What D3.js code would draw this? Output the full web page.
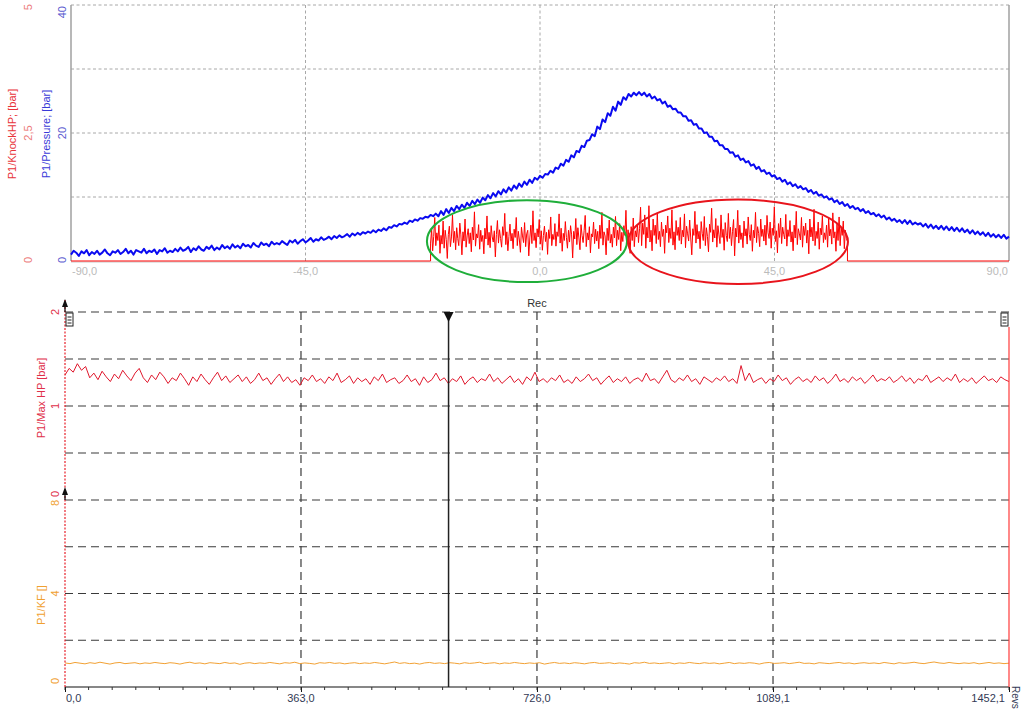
<!DOCTYPE html>
<html><head><meta charset="utf-8">
<script src="https://cdn.jsdelivr.net/npm/d3@7"></script>
<style>
html,body{margin:0;padding:0;background:#fff;}
svg{display:block;font-family:"Liberation Sans",Arial,sans-serif;font-size:11px;}
</style></head><body>
<svg id="c" width="1024" height="711"></svg>
<script>
// ---------- DATA ----------
const angleTicks = [-90, -45, 0, 45, 90];
const angleTickLabels = ["-90,0", "-45,0", "0,0", "45,0", "90,0"];
const pressureTicks = [0, 20, 40];
const pressureTickLabels = ["0", "20", "40"];
const pressureGrid = [10, 20, 30, 40];
const knockTicks = [0, 2.5, 5];
const knockTickLabels = ["0", "2,5", "5"];

// cylinder pressure [bar], one sample every 0.5 deg from -90 to 90
const pressureValues = [
1.0,1.6,1.3,0.8,1.5,1.2,1.7,0.9,1.4,1.1,1.6,1.0,1.3,1.8,1.2,0.9,1.5,1.3,1.7,1.1,
1.4,1.9,1.2,1.6,1.0,1.7,1.5,1.3,1.9,1.2,1.6,1.4,1.8,1.1,1.7,1.5,2.0,1.3,1.6,1.4,
1.9,1.5,2.1,1.6,1.8,2.2,1.4,2.0,1.7,2.3,1.8,1.6,2.2,1.9,2.4,1.7,2.1,1.8,2.5,2.0,
2.3,1.9,2.6,2.1,2.4,2.0,2.7,2.3,2.5,2.1,2.8,2.4,2.2,2.9,2.5,2.7,2.3,3.0,2.6,2.8,
2.6,3.1,2.8,2.5,3.2,2.9,3.3,2.7,3.1,3.4,2.9,3.2,3.6,3.0,3.4,3.2,3.7,3.3,3.5,3.8,
3.4,3.9,3.6,4.0,3.7,3.9,4.2,3.8,4.3,4.0,4.4,4.1,4.5,4.3,4.6,4.4,4.8,4.5,4.9,4.7,
5.1,4.8,5.3,5.2,5.6,5.4,5.8,5.7,6.0,5.8,6.3,6.1,6.5,6.3,6.7,6.6,6.9,6.8,7.2,7.0,
7.4,7.0,7.8,7.2,8.1,7.5,8.3,7.8,8.6,8.1,8.8,8.3,9.1,8.6,9.4,8.9,9.6,9.1,9.9,9.5,
10.3,9.8,10.6,10.1,10.9,10.4,11.2,10.7,11.5,11.0,11.8,11.3,12.1,11.6,12.4,11.9,12.7,12.2,13.0,12.7,
13.3,13.0,13.6,13.5,14.1,13.8,14.6,14.4,15.2,14.9,15.8,15.5,16.5,16.2,17.2,17.0,18.0,17.8,18.8,18.9,
19.8,19.5,21.0,20.6,22.1,21.7,23.1,22.7,24.1,23.5,24.9,24.4,25.6,25.2,26.1,25.7,26.3,25.9,26.4,25.9,
26.3,25.7,26.1,25.4,25.7,25.1,25.3,24.6,24.9,24.1,24.3,23.7,23.8,23.2,23.2,22.6,22.6,21.9,22.0,21.3,
21.4,20.7,20.7,20.0,20.1,19.4,19.4,18.7,18.8,18.1,18.1,17.5,17.5,16.9,17.0,16.3,16.5,15.8,16.0,15.4,
15.6,14.9,15.1,14.4,14.7,14.0,14.2,13.6,13.8,13.2,13.4,12.8,13.0,12.4,12.7,12.0,12.3,11.7,12.0,11.4,
11.7,11.2,11.4,10.8,11.1,10.5,10.8,10.2,10.4,9.9,10.1,9.6,9.8,9.2,9.5,8.9,9.2,8.6,8.9,8.3,
8.6,8.1,8.3,7.8,8.1,7.5,7.8,7.3,7.5,7.0,7.3,6.8,7.1,6.5,6.8,6.3,6.6,6.1,6.4,5.9,
6.4,5.8,6.3,5.7,6.0,5.7,5.9,5.4,5.8,5.2,5.7,5.1,5.5,5.0,5.5,4.9,5.4,4.8,5.3,4.7,
5.2,4.6,5.1,4.5,4.9,4.3,4.8,4.2,4.6,4.1,4.5,3.9,4.4,3.8,4.2,3.7,4.1,3.6,4.1,3.5,3.8];
const pressureStart = -90, pressureEnd = 90;

// knock (high-pass) signal [bar] inside the knock window
const knockWindow = [-21, 59];
const knockValues = [
0.35,0.62,0.2,0.48,0.85,0.3,0.55,0.4,0.7,0.15,0.5,0.33,0.78,0.25,0.6,0.42,0.05,0.52,0.68,0.28,
0.47,0.9,0.36,0.58,0.22,0.65,0.44,0.3,0.74,0.51,0.12,0.57,0.39,0.82,0.27,0.49,0.63,0.34,0.55,0.18,
0.66,0.41,0.96,0.29,0.53,0.45,0.71,0.23,0.6,0.38,0.5,0.14,0.64,0.43,0.88,0.31,0.56,0.26,0.69,0.47,
0.37,0.59,0.08,0.52,0.79,0.35,0.61,0.44,0.27,0.67,0.5,0.93,0.32,0.57,0.2,0.48,0.72,0.39,0.54,0.24,
0.62,0.46,0.85,0.3,0.58,0.41,0.17,0.66,0.49,0.36,0.75,0.28,0.53,0.6,0.1,0.45,0.7,0.34,0.98,0.4,
0.55,0.26,0.63,0.47,0.81,0.33,0.59,0.21,0.5,0.68,0.38,0.56,0.13,0.61,0.44,0.86,0.3,0.52,0.42,0.73,
0.29,0.57,0.48,0.92,0.35,0.64,0.19,0.54,0.4,0.77,0.46,0.25,0.6,0.37,0.69,0.51,0.06,0.58,0.43,0.83,
0.32,0.65,0.45,0.22,0.71,0.5,0.36,0.6,0.89,0.28,0.55,0.41,0.67,0.16,0.53,0.47,0.76,0.34,0.62,0.39,
0.58,0.24,0.7,0.44,0.95,0.31,0.57,0.49,0.12,0.64,0.4,0.8,0.35,0.52,0.27,0.66,0.45,0.87,0.3,0.6,
0.42,0.73,0.2,0.56,0.38,0.69,0.5,0.99,0.33,0.61,0.46,0.15,0.67,0.4,0.84,0.28,0.59,0.47,0.72,0.36,
0.63,1.05,0.3,0.74,0.52,0.9,0.25,0.66,0.45,1.08,0.37,0.6,0.2,0.82,0.5,0.7,0.34,0.94,0.42,0.58,
0.28,0.76,0.48,0.62,0.15,0.7,0.55,0.88,0.36,0.64,0.44,1.0,0.31,0.57,0.22,0.79,0.5,0.66,0.4,0.85,
0.33,0.6,0.47,0.92,0.26,0.68,0.53,0.39,0.8,0.45,0.12,0.63,0.5,0.97,0.35,0.71,0.43,0.58,0.24,0.77,
0.54,0.4,0.87,0.3,0.65,0.48,0.18,0.72,0.56,1.03,0.37,0.61,0.45,0.83,0.27,0.69,0.51,0.34,0.9,0.46,
0.62,0.21,0.75,0.5,0.38,0.93,0.44,0.66,0.3,0.58,0.81,0.1,0.64,0.47,0.99,0.35,0.7,0.42,0.55,0.26,
0.78,0.49,0.63,0.33,0.86,0.52,0.4,0.71,0.19,0.6,0.45,0.95,0.36,0.67,0.54,0.28,0.82,0.48,0.62,0.39,
0.7,0.31,0.89,0.55,0.44,0.76,0.25,0.64,0.5,1.06,0.38,0.59,0.16,0.73,0.46,0.84,0.34,0.66,0.52,0.43,
0.91,0.29,0.61,0.48,0.79,0.37,0.57,0.2,0.7,0.45,0.97,0.32,0.63,0.53,0.41,0.85,0.27,0.68,0.5,0.74,
0.35,0.6,0.14,0.82,0.47,0.66,0.39,1.01,0.3,0.58,0.44,0.76,0.23,0.64,0.51,0.88,0.36,0.55,0.42,0.7,
0.27,0.83,0.49,0.62,0.33,0.94,0.45,0.57,0.19,0.72,0.4,0.86,0.3,0.65,0.5,0.78,0.24,0.6,0.44,0.38];

// annotation ellipses (centre angle, centre pressure, half-width deg, half-height bar)
const greenEllipse = [-2.5, 3.1, 19.2, 6.4];
const redEllipse = [38.0, 3.0, 21.1, 6.6];

// lower chart: per-cycle values over revolutions
const revTicks = [0, 363.0, 726.0, 1089.1, 1452.1];
const revTickLabels = ["0,0", "363,0", "726,0", "1089,1", "1452,1"];
const revMax = 1452.1;
const cursorRev = 590;
const maxHpGrid = [0.5, 1, 1.5, 2];
const kfGrid = [2, 4, 6, 8];

const maxHpValues = [
1.33,1.40,1.36,1.45,1.38,1.42,1.30,1.35,1.28,1.37,1.31,1.26,1.34,1.29,1.38,1.32,1.27,1.35,1.40,1.30,
1.25,1.33,1.28,1.36,1.31,1.24,1.30,1.27,1.35,1.29,1.22,1.31,1.26,1.34,1.28,1.23,1.30,1.36,1.27,1.32,
1.25,1.29,1.33,1.26,1.31,1.24,1.28,1.35,1.27,1.30,1.23,1.29,1.34,1.26,1.31,1.25,1.28,1.22,1.30,1.27,
1.33,1.26,1.29,1.24,1.31,1.27,1.35,1.25,1.28,1.32,1.24,1.30,1.26,1.29,1.23,1.31,1.27,1.34,1.25,1.28,
1.30,1.24,1.27,1.33,1.26,1.29,1.22,1.31,1.25,1.28,1.35,1.27,1.30,1.24,1.29,1.26,1.32,1.23,1.28,1.31,
1.25,1.29,1.27,1.34,1.26,1.30,1.24,1.28,1.32,1.25,1.29,1.23,1.31,1.27,1.36,1.26,1.29,1.25,1.30,1.27,
1.33,1.25,1.28,1.24,1.31,1.26,1.29,1.34,1.27,1.30,1.23,1.28,1.32,1.25,1.29,1.26,1.31,1.24,1.28,1.30,
1.26,1.35,1.27,1.29,1.24,1.31,1.38,1.28,1.25,1.30,1.27,1.33,1.26,1.29,1.23,1.31,1.28,1.25,1.30,1.27,
1.32,1.26,1.29,1.24,1.43,1.27,1.35,1.25,1.28,1.30,1.24,1.29,1.26,1.33,1.27,1.30,1.23,1.28,1.31,1.26,
1.29,1.25,1.32,1.27,1.30,1.24,1.28,1.34,1.26,1.29,1.25,1.31,1.27,1.30,1.24,1.28,1.33,1.26,1.29,1.27,
1.31,1.25,1.28,1.32,1.26,1.30,1.24,1.29,1.27,1.33,1.25,1.28,1.31,1.26,1.30,1.27,1.34,1.25,1.29,1.26,
1.30,1.24,1.28,1.32,1.27,1.29,1.25,1.31,1.28,1.26];

const kfValues = [
1.03,1.00,1.05,1.02,0.99,1.04,1.01,1.06,1.02,0.98,1.03,1.05,1.00,1.02,1.04,0.99,1.03,1.01,1.05,1.02,
1.00,1.04,1.02,0.98,1.03,1.06,1.01,1.03,0.99,1.04,1.02,1.00,1.05,1.01,1.03,0.97,1.02,1.04,1.00,1.03,
1.01,1.05,1.02,0.99,1.04,1.02,1.06,1.00,1.03,1.01,0.98,1.04,1.02,1.05,1.01,1.03,0.99,1.02,1.04,1.00,
1.03,1.01,1.05,1.02,0.99,1.03,1.07,1.01,1.04,1.00,1.02,0.98,1.03,1.05,1.01,1.03,1.00,1.04,1.02,0.99,
1.04,1.01,1.03,1.06,1.00,1.02,1.04,0.99,1.03,1.01,1.05,1.02,1.00,1.03,1.01,1.04,0.98,1.02,1.05,1.01,
1.03,1.00,1.04,1.02,0.99,1.03,1.05,1.01,1.02,1.04,1.00,1.03,1.01,0.98,1.04,1.02,1.06,1.01,1.03,1.00,
1.02,1.04,0.99,1.03,1.01,1.05,1.02,1.00,1.04,1.01,1.03,0.99,1.02,1.05,1.00,1.03,1.01,1.04,1.02,0.98,
1.03,1.05,1.01,1.02,1.04,1.00,1.03,1.06,1.01,1.02,0.99,1.04,1.02,1.00,1.03,1.05,1.01,1.03,0.99,1.02,
1.04,1.01,1.03,1.00,1.05,1.02,0.99,1.04,1.01,1.03,1.06,1.02,1.00,1.04,1.07,1.03,1.01,1.05,1.02,1.00,
1.03,1.01,1.04,0.99,1.02,1.05,1.01,1.03,1.00,1.02];

// ---------- DRAW ----------
const svg = d3.select("#c");
const C = {
  gridTop: "#a8a8a8", axisTop: "#a0a0a0", topTick: "#bbbbbb",
  knock: "#ff0000", knockLbl: "#e8333a", knockTick: "#ec7a7a",
  press: "#0a0af0", pressLbl: "#3a3ad8", pressTick: "#5a5ad0",
  grid2: "#3a3a3a", maxhp: "#e0182d", maxhpLbl: "#e0304a", kf: "#f2a134", kfLbl: "#f0a030",
  revTick: "#333a55"
};

// ===== Top chart =====
const xA = d3.scaleLinear().domain([-90, 90]).range([71, 1009]);
const yP = d3.scaleLinear().domain([0, 40]).range([261, 5]);
const yK = d3.scaleLinear().domain([0, 5]).range([261, 5]);

const topG = svg.append("g");
topG.selectAll(".hg").data(pressureGrid).join("line")
  .attr("x1", xA(-90)).attr("x2", xA(90)).attr("y1", d => yP(d)).attr("y2", d => yP(d))
  .attr("stroke", C.gridTop).attr("stroke-dasharray", "3,2.5").attr("stroke-width", 1);
topG.selectAll(".vg").data(angleTicks.slice(1, -1)).join("line")
  .attr("x1", d => xA(d)).attr("x2", d => xA(d)).attr("y1", yP(40)).attr("y2", yP(0))
  .attr("stroke", C.gridTop).attr("stroke-dasharray", "3,2.5").attr("stroke-width", 1);
topG.append("line").attr("x1", xA(-90)).attr("x2", xA(-90)).attr("y1", yP(40)).attr("y2", yP(0)).attr("stroke", C.axisTop).attr("stroke-width", 1.5);
topG.append("line").attr("x1", xA(90)).attr("x2", xA(90)).attr("y1", yP(40)).attr("y2", yP(0)).attr("stroke", C.axisTop).attr("stroke-width", 1.5);
topG.append("line").attr("x1", xA(-90)).attr("x2", xA(90)).attr("y1", yP(0) + 1).attr("y2", yP(0) + 1).attr("stroke", "#c8c8c8").attr("stroke-width", 1);

// pressure line
const pAngles = d3.range(pressureValues.length).map(i => pressureStart + i * (pressureEnd - pressureStart) / (pressureValues.length - 1));
topG.append("path").datum(pressureValues.map((v, i) => [pAngles[i], v]))
  .attr("fill", "none").attr("stroke", C.press).attr("stroke-width", 2).attr("stroke-linejoin", "round")
  .attr("d", d3.line().x(d => xA(d[0])).y(d => yP(d[1])));

// knock line (zero outside window)
const kStep = (knockWindow[1] - knockWindow[0]) / (knockValues.length - 1);
const knockPts = [[-90, 0], [knockWindow[0], 0]]
  .concat(knockValues.map((v, i) => [knockWindow[0] + i * kStep, v]))
  .concat([[knockWindow[1], 0], [90, 0]]);
topG.append("path").datum(knockPts)
  .attr("fill", "none").attr("stroke", C.knock).attr("stroke-width", 1)
  .attr("d", d3.line().x(d => xA(d[0])).y(d => yK(d[1])));

// ellipses
function ell(e, col) {
  topG.append("ellipse")
    .attr("cx", xA(e[0])).attr("cy", yP(e[1]))
    .attr("rx", xA(e[0] + e[2]) - xA(e[0])).attr("ry", yP(0) - yP(e[3]))
    .attr("fill", "none").attr("stroke", col).attr("stroke-width", 2);
}
ell(greenEllipse, "#1fae3a");
ell(redEllipse, "#e8141c");

// x labels
topG.selectAll(".xl").data(angleTicks).join("text")
  .attr("x", (d, i) => i === 0 ? xA(d) + 1 : i === angleTicks.length - 1 ? xA(d) - 1 : xA(d))
  .attr("y", 275)
  .attr("text-anchor", (d, i) => i === 0 ? "start" : i === angleTicks.length - 1 ? "end" : "middle")
  .attr("fill", C.topTick).text((d, i) => angleTickLabels[i]);

function rotTicks(g, vals, labels, scale, x, col, lo, hi) {
  vals.forEach((v, i) => {
    let y = scale(v), anchor = "middle";
    if (i === 0) { anchor = "start"; y = lo; }
    if (i === vals.length - 1) { anchor = "end"; y = hi; }
    g.append("text").attr("transform", `translate(${x},${y}) rotate(-90)`)
      .attr("text-anchor", anchor).attr("dy", "0.35em").attr("fill", col).text(labels[i]);
  });
}
rotTicks(topG, pressureTicks, pressureTickLabels, yP, 62, C.pressTick, 263, 6);
rotTicks(topG, knockTicks, knockTickLabels, yK, 28, C.knockTick, 263, 4);
topG.append("text").attr("transform", `translate(46,134) rotate(-90)`).attr("text-anchor", "middle").attr("dy", "0.35em")
  .attr("fill", C.pressLbl).text("P1/Pressure; [bar]");
topG.append("text").attr("transform", `translate(12,134) rotate(-90)`).attr("text-anchor", "middle").attr("dy", "0.35em")
  .attr("fill", C.knockLbl).text("P1/KnockHP; [bar]");

// ===== Bottom chart =====
const xR = d3.scaleLinear().domain([0, revMax]).range([65, 1009]);
const yM = d3.scaleLinear().domain([0, 2]).range([500, 312]);
const yF = d3.scaleLinear().domain([0, 8]).range([687, 500]);
const bot = svg.append("g");

const hLines = maxHpGrid.map(v => yM(v)).concat(kfGrid.map(v => yF(v)));
bot.selectAll(".bh").data(hLines).join("line")
  .attr("x1", xR(0)).attr("x2", xR(revMax)).attr("y1", d => d).attr("y2", d => d)
  .attr("stroke", C.grid2).attr("stroke-width", 1.2).attr("stroke-dasharray", "8,5");
bot.selectAll(".bv").data(revTicks.slice(1, -1)).join("line")
  .attr("x1", d => xR(d)).attr("x2", d => xR(d)).attr("y1", yM(2)).attr("y2", yF(0))
  .attr("stroke", C.grid2).attr("stroke-width", 1.2).attr("stroke-dasharray", "8,5");

const revsM = maxHpValues.map((v, i) => i * revMax / (maxHpValues.length - 1));
bot.append("path").datum(maxHpValues.map((v, i) => [revsM[i], v]))
  .attr("fill", "none").attr("stroke", C.maxhp).attr("stroke-width", 1)
  .attr("d", d3.line().x(d => xR(d[0])).y(d => yM(d[1])));
const revsF = kfValues.map((v, i) => i * revMax / (kfValues.length - 1));
bot.append("path").datum(kfValues.map((v, i) => [revsF[i], v]))
  .attr("fill", "none").attr("stroke", C.kf).attr("stroke-width", 1)
  .attr("d", d3.line().x(d => xR(d[0])).y(d => yF(d[1])));

const xAxis = d3.axisBottom(xR).tickValues(revTicks).tickSize(5).tickFormat("");
const axG = bot.append("g").attr("transform", `translate(0,${yF(0)})`).call(xAxis);
axG.select(".domain").attr("stroke", "#111").attr("stroke-width", 1.2).attr("d", `M${xR(0)},0H${xR(revMax)}`);
axG.selectAll(".tick line").attr("stroke", "#111");
const minor = d3.range(0, 41).map(i => i * revMax / 40);
bot.selectAll(".mt").data(minor).join("line")
  .attr("x1", d => xR(d)).attr("x2", d => xR(d)).attr("y1", yF(0)).attr("y2", yF(0) + 3)
  .attr("stroke", "#333").attr("stroke-width", 1);
bot.selectAll(".rl").data(revTicks).join("text")
  .attr("x", (d, i) => i === 0 ? xR(d) + 1 : i === revTicks.length - 1 ? xR(d) - 4 : xR(d))
  .attr("y", 702)
  .attr("text-anchor", (d, i) => i === 0 ? "start" : i === revTicks.length - 1 ? "end" : "middle")
  .attr("fill", C.revTick).text((d, i) => revTickLabels[i]);
bot.append("text").attr("transform", `translate(1015,686) rotate(90)`).attr("text-anchor", "start").attr("dy", "0.35em")
  .style("font-size", "10px").attr("fill", C.revTick).text("Revs");

// left dotted red axis
bot.append("line").attr("x1", xR(0)).attr("x2", xR(0)).attr("y1", 300).attr("y2", yF(0))
  .attr("stroke", "#e8202a").attr("stroke-width", 1.2).attr("stroke-dasharray", "2,1.5");
bot.append("line").attr("x1", xR(revMax)).attr("x2", xR(revMax)).attr("y1", 327).attr("y2", yF(0))
  .attr("stroke", "#ff3a3a").attr("stroke-width", 1.2);
[yM(2), yF(8)].forEach(y => {
  bot.append("line").attr("x1", xR(0)).attr("x2", xR(0)).attr("y1", y - 10).attr("y2", y).attr("stroke", "#111").attr("stroke-width", 1.3);
  bot.append("path").attr("d", `M${xR(0)},${y - 13}L${xR(0) - 3},${y - 5}L${xR(0) + 3},${y - 5}Z`).attr("fill", "#111");
});
[xR(0) + 1, xR(revMax) - 8].forEach(x => {
  bot.append("rect").attr("x", x).attr("y", 313).attr("width", 7).attr("height", 13)
    .attr("fill", "#fff").attr("stroke", "#222").attr("stroke-width", 1);
  [317, 320, 323].forEach(yy => bot.append("line").attr("x1", x + 1.5).attr("x2", x + 5.5).attr("y1", yy).attr("y2", yy).attr("stroke", "#222"));
});
bot.append("line").attr("x1", xR(cursorRev)).attr("x2", xR(cursorRev)).attr("y1", yM(2)).attr("y2", yF(0))
  .attr("stroke", "#222").attr("stroke-width", 1.5);
bot.append("path").attr("d", `M${xR(cursorRev) - 5},${yM(2)}L${xR(cursorRev) + 5},${yM(2)}L${xR(cursorRev)},${yM(2) + 10}Z`).attr("fill", "#111");
bot.append("text").attr("x", xR(726)).attr("y", 307).attr("text-anchor", "middle").attr("fill", "#333").text("Rec");

function lbl(x, y, txt, col, anchor) {
  bot.append("text").attr("transform", `translate(${x},${y}) rotate(-90)`).attr("text-anchor", anchor || "middle")
    .attr("dy", "0.35em").attr("fill", col).text(txt);
}
lbl(55, yM(2), "2", C.maxhpLbl);
lbl(55, yM(1), "1", C.maxhpLbl);
lbl(55, yM(0) - 3, "0", C.maxhpLbl, "start");
lbl(55, yF(8) + 3, "8", C.kfLbl);
lbl(55, yF(4), "4", C.kfLbl);
lbl(55, yF(0) - 3, "0", C.kfLbl, "start");
lbl(41, 398, "P1/Max HP [bar]", C.maxhpLbl);
lbl(41, 605, "P1/KF []", C.kfLbl);
</script>
</body></html>
